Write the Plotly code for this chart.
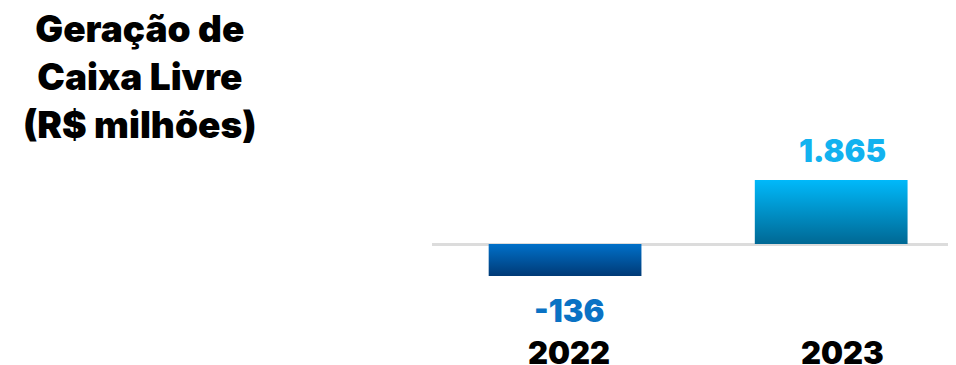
import plotly.graph_objects as go

# ---- data ----
years = ["2022", "2023"]
values = [-136, 1865]
title_lines = ["Geração de", "Caixa Livre", "(R$ milhões)"]
label_colors = ["#0a72c4", "#12b2ef"]
grad_bottom = ["#003a76", "#006894"]
grad_top = ["#0070c9", "#00b9fa"]

W, H = 956, 365
OFF = 8                # page body margin offset
zero_px = 244 - OFF    # pixel row of the zero line (from figure top)
bar_px = [32, 64]      # drawn heights of each bar (chart uses a broken scale)
bar_w = 0.574
x_left = 432 - OFF
cat_c0 = 564.5 - OFF
cat_step = 266.5

fig = go.Figure()

for i, (yr, v) in enumerate(zip(years, values)):
    yref = "y" if i == 1 else "y2"
    xs = [i - bar_w / 2, i + bar_w / 2, i + bar_w / 2, i - bar_w / 2, i - bar_w / 2]
    ys = [0, 0, v, v, 0]
    fig.add_trace(go.Scatter(
        x=xs, y=ys, mode="lines", fill="toself",
        line=dict(width=0, color=grad_top[i]),
        fillgradient=dict(type="vertical",
                          colorscale=[[0, grad_bottom[i]], [1, grad_top[i]]]),
        yaxis=yref, hoverinfo="skip", showlegend=False,
    ))

def yrange(v, px):
    upp = abs(v) / px
    return [-(H - zero_px) * upp, zero_px * upp]

fig.update_layout(
    width=W, height=H,
    margin=dict(l=0, r=0, t=0, b=0),
    plot_bgcolor="white", paper_bgcolor="white",
    font=dict(family="Inter", color="black"),
    xaxis=dict(domain=[x_left / W, 1],
               range=[-0.5, (W - cat_c0) / cat_step],
               visible=False, fixedrange=True),
    yaxis=dict(range=yrange(values[1], bar_px[1]), showgrid=False,
               showticklabels=False, zeroline=True, zerolinecolor="#dcdcdc",
               zerolinewidth=3, fixedrange=True),
    yaxis2=dict(range=yrange(values[0], bar_px[0]), overlaying="y",
                visible=False, fixedrange=True),
)

def fmt(v):
    return f"{v:,}".replace(",", ".")

annotations = []
# value labels
annotations.append(dict(x=0, y=values[0], xref="x", yref="y2", text=fmt(values[0]),
                        showarrow=False, yanchor="top", yshift=-14, xshift=4,
                        font=dict(size=31, color=label_colors[0], weight=900)))
annotations.append(dict(x=1, y=values[1], xref="x", yref="y", text=fmt(values[1]),
                        showarrow=False, yanchor="bottom", yshift=9, xshift=11,
                        font=dict(size=31, color=label_colors[1], weight=900)))
# category labels
for i, yr in enumerate(years):
    annotations.append(dict(x=i, y=1 - (352 - OFF) / H, xref="x", yref="paper", text=yr,
                            showarrow=False, yanchor="middle", xshift=[4, 11][i],
                            font=dict(size=31, color="black", weight=900)))
# title
annotations.append(dict(x=(140 - OFF) / W, y=1 - (4 - OFF) / H, xref="paper", yref="paper",
                        text="<br>".join(title_lines), showarrow=False,
                        xanchor="center", yanchor="top", align="center",
                        font=dict(size=37, color="black", weight=900)))
fig.update_layout(annotations=annotations)

fig.write_html("out.html")
